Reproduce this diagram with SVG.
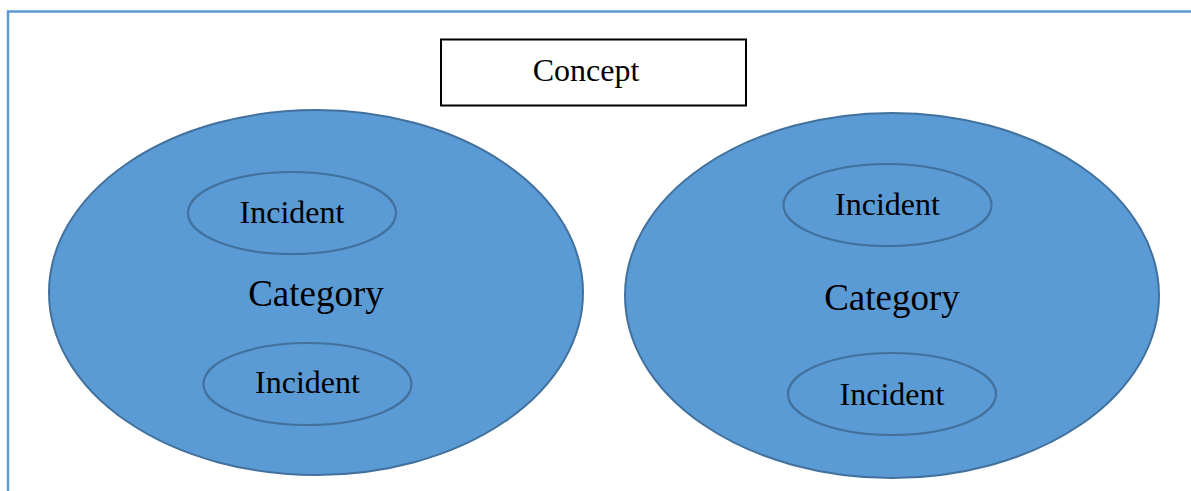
<svg xmlns="http://www.w3.org/2000/svg" width="1191" height="491" viewBox="0 0 1191 491">
<style>
.frame{fill:none;stroke:#5b9bd5;stroke-width:2.5}
.box{fill:#fff;stroke:#000;stroke-width:2}
.cat{fill:#5b9bd5;stroke:#41719c;stroke-width:2}
.inc{fill:#5b9bd5;stroke:#41719c;stroke-width:2.2}
text{font-family:"Liberation Serif","Times New Roman",serif;fill:#000;text-anchor:middle}
.t{font-size:32px}
.c{font-size:37px}
</style>
<rect width="1191" height="491" fill="#fff"/>
<path class="frame" d="M8 491 V11.5 H1191"/>
<g id="concept">
<rect class="box" x="441" y="39.5" width="305" height="66"/>
<text class="t" x="586" y="81">Concept</text>
</g>
<g id="category-left">
<ellipse class="cat" cx="316" cy="292.5" rx="267" ry="182.5"/>
<text class="c" x="316" y="306">Category</text>
</g>
<g id="incident-left-top">
<ellipse class="inc" cx="292" cy="213" rx="104" ry="41"/>
<text class="t" x="292" y="223">Incident</text>
</g>
<g id="incident-left-bottom">
<ellipse class="inc" cx="307.5" cy="384" rx="104" ry="41"/>
<text class="t" x="307.5" y="393">Incident</text>
</g>
<g id="category-right">
<ellipse class="cat" cx="892" cy="295.5" rx="267" ry="182.5"/>
<text class="c" x="892" y="310">Category</text>
</g>
<g id="incident-right-top">
<ellipse class="inc" cx="887.5" cy="205" rx="104" ry="41"/>
<text class="t" x="887.5" y="215">Incident</text>
</g>
<g id="incident-right-bottom">
<ellipse class="inc" cx="892" cy="394" rx="104" ry="41"/>
<text class="t" x="892" y="405">Incident</text>
</g>
<g id="connectors"></g>
</svg>
